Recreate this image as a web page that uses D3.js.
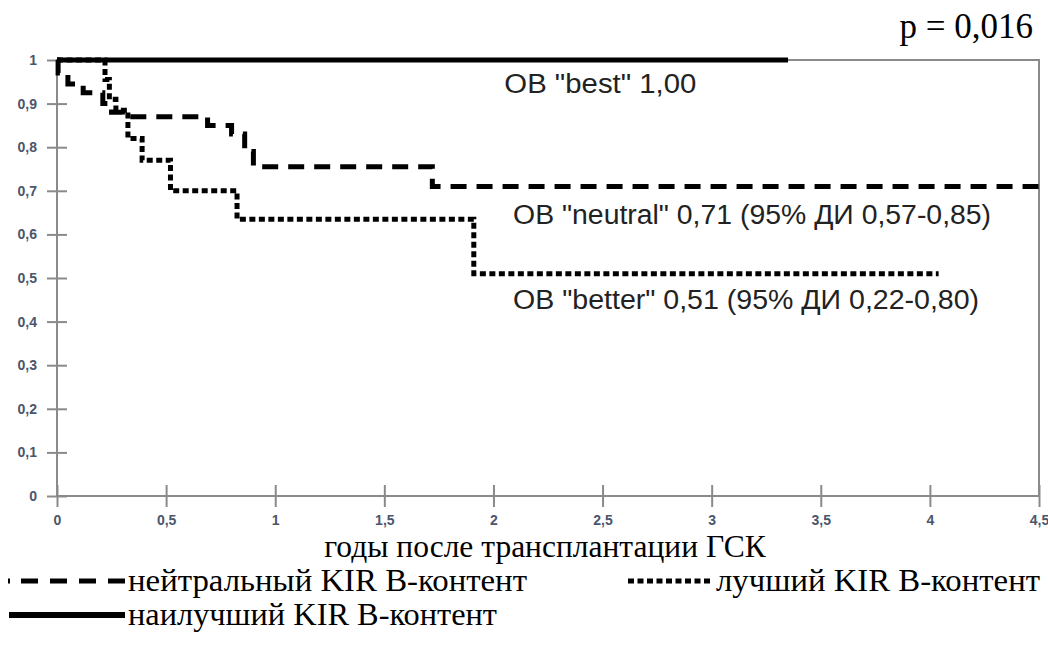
<!DOCTYPE html>
<html>
<head>
<meta charset="utf-8">
<script src="https://cdn.jsdelivr.net/npm/d3@7"></script>
<style>
  body { margin: 0; background: #fff; }
  svg { display: block; }
</style>
</head>
<body>
<div id="chart"></div>
<script>
// Kaplan-Meier steps (years, survival)
const neutralTimes = [0, 0.005, 0.05, 0.12, 0.21, 0.25, 0.3, 0.69, 0.8, 0.86, 0.9, 1.72];
const neutralSurv  = [1, 0.97, 0.945, 0.925, 0.9, 0.88, 0.87, 0.85, 0.83, 0.79, 0.755, 0.71];
const neutralEnd = 4.5;

const betterTimes = [0, 0.22, 0.24, 0.27, 0.325, 0.39, 0.52, 0.825, 1.91];
const betterSurv  = [1, 0.955, 0.91, 0.885, 0.82, 0.77, 0.70, 0.635, 0.51];
const betterEnd = 4.04;

const bestTimes = [0];
const bestSurv  = [1];
const bestEnd = 3.35;

const xTicks = [0, 0.5, 1, 1.5, 2, 2.5, 3, 3.5, 4, 4.5];
const yTicks = [0, 0.1, 0.2, 0.3, 0.4, 0.5, 0.6, 0.7, 0.8, 0.9, 1];

const pText = "p = 0,016";
const xTitle = "годы после трансплантации ГСК";
const notes = [
  { text: "ОВ \"best\" 1,00", t: 2.05, v: 0.925, len: 192 },
  { text: "ОВ \"neutral\" 0,71 (95% ДИ 0,57-0,85)", t: 2.09, v: 0.625, len: 478 },
  { text: "ОВ \"better\" 0,51 (95% ДИ 0,22-0,80)", t: 2.09, v: 0.43, len: 466 }
];
const legendNames = ["нейтральный KIR B-контент", "лучший KIR B-контент", "наилучший KIR B-контент"];

const width = 1048, height = 648;
const comma = d => String(d).replace(".", ",");

const svg = d3.select("#chart").append("svg")
  .attr("width", width)
  .attr("height", height);

const x = d3.scaleLinear().domain([0, 4.5]).range([57, 1039]);
const y = d3.scaleLinear().domain([0, 1]).range([496, 60]);

// frame
svg.append("rect")
  .attr("x", x(0)).attr("y", y(1))
  .attr("width", x(4.5) - x(0)).attr("height", y(0) - y(1))
  .attr("fill", "none").attr("stroke", "#8a8a8a").attr("stroke-width", 2);

// axes, ticks cross the axis line
const yAxis = svg.append("g")
  .attr("transform", "translate(" + x(0) + ",0)")
  .call(d3.axisLeft(y).tickValues(yTicks).tickFormat(comma).tickSize(10).tickPadding(10));
yAxis.select(".domain").remove();
yAxis.selectAll(".tick line").attr("x1", 10).attr("stroke", "#8a8a8a").attr("stroke-width", 2);

const xAxis = svg.append("g")
  .attr("transform", "translate(0," + y(0) + ")")
  .call(d3.axisBottom(x).tickValues(xTicks).tickFormat(comma).tickSize(11).tickPadding(8));
xAxis.select(".domain").remove();
xAxis.selectAll(".tick line").attr("y1", -11).attr("stroke", "#8a8a8a").attr("stroke-width", 2);

svg.selectAll(".tick text")
  .attr("font-family", "Liberation Sans, Arial, sans-serif")
  .attr("font-size", 14)
  .attr("font-weight", "bold")
  .attr("fill", "#4a566c");

// survival curves
const line = d3.line()
  .x(d => x(d[0]))
  .y(d => y(d[1]))
  .curve(d3.curveStepAfter);

function steps(times, surv, end) {
  const pts = times.map((t, i) => [t, surv[i]]);
  pts.push([end, surv[surv.length - 1]]);
  return pts;
}

svg.append("path")
  .datum(steps(betterTimes, betterSurv, betterEnd))
  .attr("d", line)
  .attr("fill", "none").attr("stroke", "#000")
  .attr("stroke-width", 5).attr("stroke-dasharray", "6,3.5");

svg.append("path")
  .datum(steps(neutralTimes, neutralSurv, neutralEnd))
  .attr("d", line)
  .attr("fill", "none").attr("stroke", "#000")
  .attr("stroke-width", 5).attr("stroke-dasharray", "16,10");

svg.append("path")
  .datum(steps(bestTimes, bestSurv, bestEnd))
  .attr("d", line)
  .attr("fill", "none").attr("stroke", "#000")
  .attr("stroke-width", 5);

// annotations inside the plot
svg.selectAll(".note")
  .data(notes)
  .enter().append("text")
  .attr("class", "note")
  .attr("x", d => x(d.t))
  .attr("y", d => y(d.v))
  .attr("textLength", d => d.len)
  .attr("lengthAdjust", "spacingAndGlyphs")
  .attr("font-family", "Liberation Sans, Arial, sans-serif")
  .attr("font-size", 27)
  .attr("fill", "#222")
  .text(d => d.text);

// p value
svg.append("text")
  .attr("x", 1033).attr("y", 38)
  .attr("text-anchor", "end")
  .attr("font-family", "Liberation Serif, Times New Roman, serif")
  .attr("font-size", 35)
  .attr("fill", "#000")
  .text(pText);

// x axis title
svg.append("text")
  .attr("x", 545).attr("y", 557)
  .attr("text-anchor", "middle")
  .attr("font-family", "Liberation Serif, Times New Roman, serif")
  .attr("font-size", 31.5)
  .attr("fill", "#000")
  .text(xTitle);

// legend
const legend = svg.append("g")
  .attr("font-family", "Liberation Serif, Times New Roman, serif")
  .attr("font-size", 30.5)
  .attr("fill", "#000");

const legendItems = [
  { name: legendNames[0], x1: 8, x2: 125, tx: 128, len: 399, base: 591, dash: "2,11,17,12,17,12,17,12,17" },
  { name: legendNames[1], x1: 628, x2: 711, tx: 716, len: 324, base: 591, dash: "6,3.5" },
  { name: legendNames[2], x1: 9, x2: 125, tx: 128, len: 369, base: 625, dash: null }
];

legendItems.forEach(d => {
  const l = legend.append("line")
    .attr("x1", d.x1).attr("x2", d.x2)
    .attr("y1", d.base - 10).attr("y2", d.base - 10)
    .attr("stroke", "#000").attr("stroke-width", d.dash ? 5 : 6);
  if (d.dash) l.attr("stroke-dasharray", d.dash);
  legend.append("text")
    .attr("x", d.tx).attr("y", d.base)
    .attr("textLength", d.len)
    .attr("lengthAdjust", "spacingAndGlyphs")
    .text(d.name);
});
</script>
</body>
</html>
